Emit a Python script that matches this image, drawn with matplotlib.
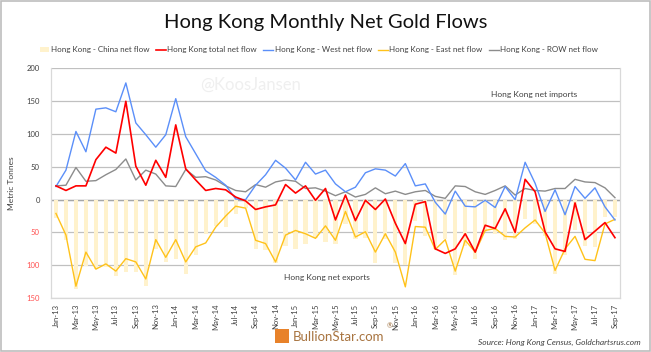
import matplotlib
matplotlib.use("Agg")
import matplotlib.pyplot as plt
import matplotlib.patches as mpatches
from matplotlib.ticker import FixedLocator, FuncFormatter
import pandas as pd

plt.rcParams['font.family'] = ['Lato', 'DejaVu Sans']

# Monthly data, Jan-13 .. Sep-17 (tonnes)
months = pd.date_range("2013-01-01", "2017-09-01", freq="MS").strftime("%b-%y").tolist()

china_net = [-28, -62, -136, -101, -106, -103, -117, -111, -111, -131, -75, -95,
             -90, -113, -85, -52, -40, -42, -22, -12, -76, -77, -97, -71,
             -76, -67, -58, -64, -68, -37, -60, -59, -97, -60, -97, -100,
             -33, -55, -76, -60, -115, -70, -90, -50, -52, -61, -60, -30,
             -37, -55, -113, -85, -47, -70, -72, -27, -26]
total_net = [21, 14, 21, 21, 61, 80, 71, 150, 51, 22, 60, 34,
             114, 47, 30, 14, 17, 15, 4, -2, -15, -11, -8, 23,
             10, 21, -1, 17, -31, 7, -32, -1, -15, 1, -36, -67,
             -7, -3, -75, -82, -75, -52, -80, -39, -44, -14, -50, 31,
             12, -49, -75, -79, -5, -61, -48, -35, -58]
west_net = [20, 45, 104, 73, 138, 140, 134, 178, 117, 99, 80, 99,
            154, 96, 70, 44, 34, 22, 1, 0, 22, 38, 60, 48,
            30, 57, 39, 45, 24, 12, 19, 41, 47, 45, 36, 55,
            21, 24, -4, -22, 13, -10, -11, -1, -12, 20, 0, 57,
            25, -18, 15, -23, 20, 2, 18, -11, -31]
east_net = [-21, -54, -132, -80, -106, -98, -109, -90, -95, -121, -61, -88,
            -61, -95, -72, -66, -42, -25, -10, -13, -62, -67, -95, -54,
            -47, -52, -59, -40, -62, -18, -57, -49, -80, -52, -80, -133,
            -41, -42, -76, -61, -109, -62, -80, -47, -44, -56, -57, -43,
            -31, -51, -108, -75, -56, -91, -93, -37, -30]
row_net = [21, 22, 49, 28, 29, 38, 46, 62, 30, 45, 39, 21,
           20, 46, 34, 35, 30, 21, 14, 12, 23, 19, 27, 30,
           28, 17, 18, 13, 6, 12, 4, 8, 18, 9, 13, 8,
           12, 14, 5, 2, 21, 20, 12, 8, 14, 21, 7, 17,
           14, 13, 17, 17, 31, 27, 26, 18, 3]

fig = plt.figure(figsize=(6.51, 3.52), dpi=100)
fig.patch.set_facecolor("white")
fig.add_artist(mpatches.Rectangle((0.002, 0.003), 0.996, 0.994, transform=fig.transFigure,
                                  fill=False, edgecolor="#bdbdbd", linewidth=1.2))

ax = fig.add_axes([0.0783, 0.1534, 0.874, 0.652])
x = list(range(len(months)))

h_bar = ax.bar(x, china_net, width=0.42, color="#fff2cc", zorder=2, label="Hong Kong - China net flow")
h_tot, = ax.plot(x, total_net, color="#ff0000", lw=1.2, zorder=5, label="Hong Kong total net flow")
h_west, = ax.plot(x, west_net, color="#5b8ff9", lw=1.0, zorder=4, label="Hong Kong - West net flow")
h_east, = ax.plot(x, east_net, color="#ffc21a", lw=1.0, zorder=3, label="Hong Kong - East net flow")
h_row, = ax.plot(x, row_net, color="#8c8c8c", lw=1.0, zorder=3, label="Hong Kong - ROW net flow")

ax.set_xlim(-0.5, len(months) - 0.5)
ax.set_ylim(-150, 200)
ax.yaxis.set_major_locator(FixedLocator(range(-150, 201, 50)))
ax.yaxis.set_major_formatter(FuncFormatter(lambda v, p: f"{abs(int(v))}"))
ax.tick_params(axis="y", length=0, labelsize=5.5, pad=8, labelcolor="#404040")
ax.grid(axis="y", color="#c0c0c0", lw=0.9, zorder=0)
ax.set_axisbelow(True)
ax.axhline(0, color="#a6a6a6", lw=1.0, zorder=1)

ax.set_xticks(x[::2])
ax.set_xticklabels(months[::2], rotation=90, fontsize=5.5, color="#404040")
ax.tick_params(axis="x", length=0, pad=4)

ax.spines["top"].set_visible(False)
for side in ["left", "right", "bottom"]:
    ax.spines[side].set_color("#d9d9d9")
    ax.spines[side].set_linewidth(0.9)

fig.canvas.draw()
for lab in ax.get_yticklabels():
    if lab.get_position()[1] < 0:
        lab.set_color("#ff5050")

ax.set_ylabel("Metric Tonnes", fontsize=6, color="#404040", labelpad=8)

ax.text(0.35, 0.93, "@KoosJansen", transform=ax.transAxes, fontsize=12,
        color="#efefef", ha="center", va="center", zorder=0)
ax.text(0.85, 0.887, "Hong Kong net imports", transform=ax.transAxes, fontsize=6,
        color="#404040", ha="center", va="center")
ax.text(0.485, 0.09, "Hong Kong net exports", transform=ax.transAxes, fontsize=6,
        color="#404040", ha="center", va="center")

fig.text(0.5, 0.935, "Hong Kong Monthly Net Gold Flows", ha="center", va="center",
         fontsize=14.5, color="#111111")
fig.legend([h_bar, h_tot, h_west, h_east, h_row],
           [h.get_label() for h in [h_bar, h_tot, h_west, h_east, h_row]],
           loc="center", bbox_to_anchor=(0.49, 0.858), ncol=5, frameon=False,
           fontsize=5.8, handlelength=1.2, handletextpad=0.2, columnspacing=0.8,
           labelcolor="#404040")

# BullionStar logo + source
fig.add_artist(mpatches.Rectangle((0.423, 0.025), 0.021, 0.04, transform=fig.transFigure,
                                  facecolor="#e8822a", edgecolor="none"))
t1 = fig.text(0.449, 0.044, "BullionStar.com", fontsize=9.5, color="#a87440",
              ha="left", va="center")
renderer = fig.canvas.get_renderer()
bb = t1.get_window_extent(renderer)
fig.text(bb.x1 / fig.bbox.width + 0.004, 0.075, "®", fontsize=5, color="#9c6d3b",
         ha="left", va="center")
fig.text(0.985, 0.028, "Source: Hong Kong Census, Goldchartsrus.com", fontsize=6,
         style="italic", color="#404040", ha="right", va="center")

fig.savefig("out.png", dpi=100, facecolor="white")
